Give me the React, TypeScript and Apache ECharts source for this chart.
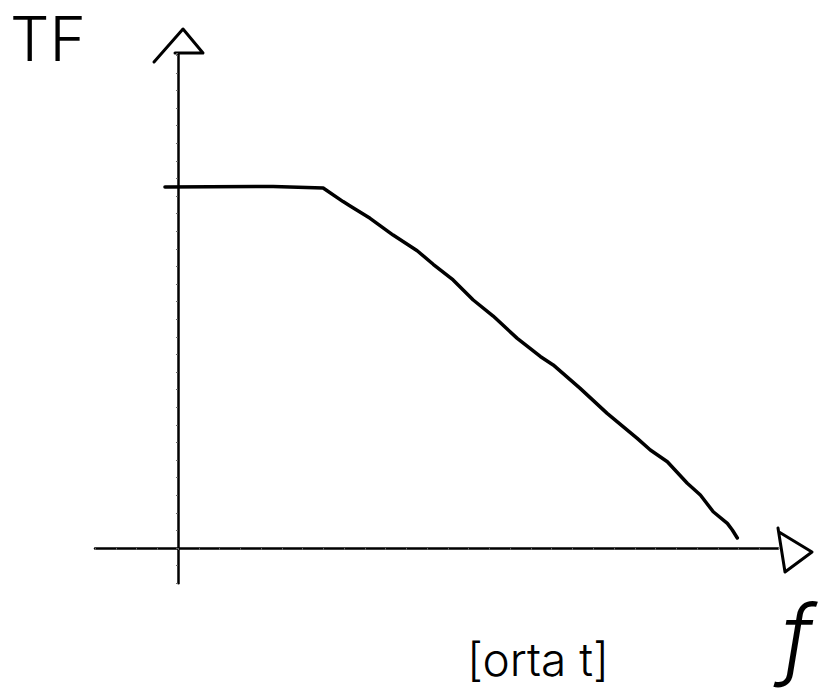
import React, { useEffect, useRef } from "react";
import * as echarts from "echarts";

// Sketch of a transfer-function magnitude: flat pass band, then roll-off.
const freq = [
  -0.63, 4.58, 6.99, 7.95, 8.29, 9.25, 10.36, 11.52, 12.29, 13.25, 14.22,
  15.18, 16.34, 17.45, 18.07, 19.37, 20.67, 22.12, 22.75, 23.57, 24.53,
  25.16, 25.78, 26.46, 26.7, 26.94,
];
const gain = [
  20.51, 20.54, 20.45, 19.68, 19.43, 18.73, 17.78, 16.89, 16.12, 15.23, 14.09,
  13.18, 11.91, 10.88, 10.4, 9.07, 7.65, 6.23, 5.57, 4.9, 3.68, 3.01, 2.06,
  1.4, 1.02, 0.57,
];

const xRange = [-4, 28.9];
const yRange = [-2, 28.1];

const yTitle = "TF";
const xTitle = "f";
const footText = "[orta t]";

const hand = "Inter, Roboto, 'DejaVu Sans', sans-serif";

export default function App() {
  const ref = useRef<HTMLDivElement>(null);

  useEffect(() => {
    if (!ref.current) return;
    const chart = echarts.init(ref.current, null, { renderer: "svg" });
    const pts = freq.map((f, i) => [f, gain[i]]);
    const stroke = { stroke: "#000", lineWidth: 3, fill: "none", lineCap: "round", lineJoin: "round" };

    chart.setOption({
      animation: false,
      backgroundColor: "#fff",
      grid: { left: 95, right: 43, top: 53.4, bottom: 107.8 },
      xAxis: {
        type: "value",
        min: xRange[0],
        max: xRange[1],
        interval: 1,
        axisLine: { onZero: true, lineStyle: { color: "#000", width: 2.5 } },
        axisTick: { show: true, length: 2, lineStyle: { color: "#666", width: 1 } },
        axisLabel: { show: false },
        splitLine: { show: false },
      },
      yAxis: {
        type: "value",
        min: yRange[0],
        max: yRange[1],
        interval: 1,
        axisLine: { onZero: true, lineStyle: { color: "#000", width: 2.5 } },
        axisTick: { show: true, length: 2, lineStyle: { color: "#666", width: 1 } },
        axisLabel: { show: false },
        splitLine: { show: false },
      },
      series: [
        {
          type: "line",
          data: pts,
          symbol: "none",
          lineStyle: { color: "#000", width: 3.5, cap: "round", join: "round" },
        },
      ],
      graphic: [
        {
          type: "polyline",
          shape: { points: [[154, 62], [183, 29], [203, 53], [175, 53]] },
          style: stroke,
        },
        {
          type: "polyline",
          shape: { points: [[778, 528], [785, 572], [812, 552], [779, 532]] },
          style: stroke,
        },
        {
          type: "text",
          x: 10,
          y: 38,
          style: {
            text: yTitle,
            font: `300 62px ${hand}`,
            fill: "#000",
            verticalAlign: "middle",
          },
        },
        {
          type: "text",
          x: 797,
          y: 636,
          style: {
            text: xTitle,
            font: `italic 300 88px ${hand}`,
            fill: "#000",
            align: "center",
            verticalAlign: "middle",
          },
        },
        {
          type: "text",
          x: 538,
          y: 682,
          style: {
            text: footText,
            font: `300 46px ${hand}`,
            fill: "#000",
            align: "center",
            verticalAlign: "bottom",
          },
        },
      ],
    });
    return () => chart.dispose();
  }, []);

  return (
    <div
      ref={ref}
      style={{ position: "fixed", left: 0, top: 0, width: 821, height: 691 }}
    />
  );
}
